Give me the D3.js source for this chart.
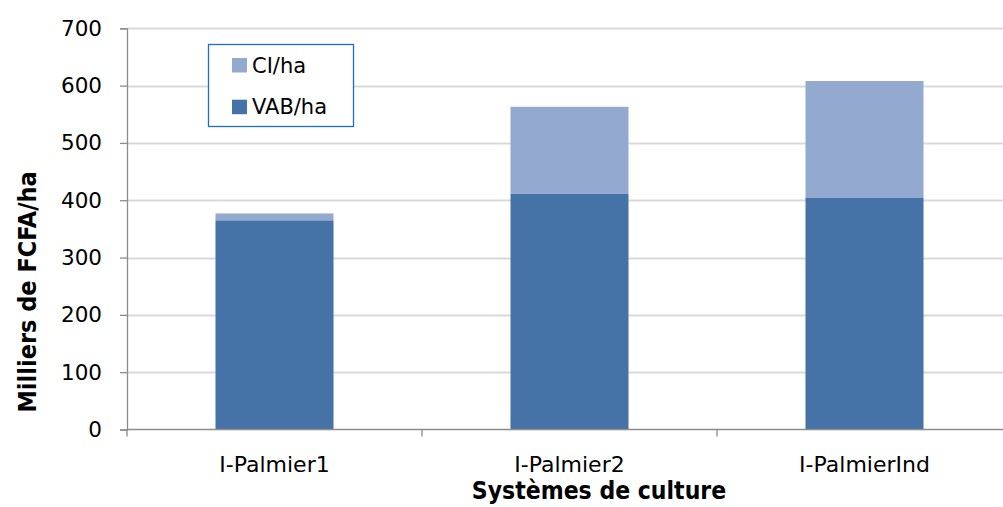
<!DOCTYPE html>
<html><head><meta charset="utf-8">
<script src="https://cdn.jsdelivr.net/npm/d3@7"></script>
<style>body{margin:0;background:#fff;}svg{display:block;}</style>
</head><body>
<svg id="c" width="1003" height="507"></svg>
<script>
const categories = ["I-Palmier1", "I-Palmier2", "I-PalmierInd"];
const vabValues = [365, 411, 405];
const ciValues = [12, 152, 203];
const seriesNames = ["VAB/ha", "CI/ha"];
const yTicks = [0, 100, 200, 300, 400, 500, 600, 700];

(function(){
const svg = d3.select("#c");
const font = "'DejaVu Sans Condensed', 'DejaVu Sans', sans-serif";
const fontN = "'DejaVu Sans', sans-serif";
const pLeft = 127, pRight = 1012, pTop = 28.3, pBottom = 429.5;
const colors = {"VAB/ha": "#4572A7", "CI/ha": "#94A9D0"};

const x = d3.scaleBand().domain(categories).range([pLeft, pRight]).paddingInner(0.6).paddingOuter(0.3);
const xb = d3.scaleBand().domain(categories).range([pLeft, pRight]);
const y = d3.scaleLinear().domain([0, 700]).range([pBottom, pTop]);

// gridlines
svg.append("g").selectAll("line").data(yTicks.filter(d => d > 0)).join("line")
  .attr("x1", pLeft).attr("x2", 1003)
  .attr("y1", d => Math.round(y(d)) + 0.5).attr("y2", d => Math.round(y(d)) + 0.5)
  .attr("stroke", "#D9D9D9").attr("stroke-width", 2);

const data = categories.map((c, i) => ({cat: c, "VAB/ha": vabValues[i], "CI/ha": ciValues[i]}));
const stacked = d3.stack().keys(seriesNames)(data);

svg.append("g").selectAll("g").data(stacked).join("g")
  .attr("fill", d => colors[d.key])
  .selectAll("rect").data(d => d).join("rect")
  .attr("x", d => x(d.data.cat)).attr("width", x.bandwidth())
  .attr("y", d => y(d[1])).attr("height", d => y(d[0]) - y(d[1]));

// y axis
const yAxis = svg.append("g").attr("transform", `translate(${pLeft},0)`)
  .call(d3.axisLeft(y).tickValues(yTicks).tickSize(7).tickPadding(18));
yAxis.select(".domain").attr("stroke", "#8C8C8C").attr("stroke-width", 1.3);
yAxis.selectAll(".tick line").attr("stroke", "#8C8C8C").attr("stroke-width", 1.3);
yAxis.selectAll("text").attr("font-family", fontN).attr("font-size", 21.5).attr("fill", "#000");

// x axis
const xAxis = svg.append("g").attr("transform", `translate(0,${pBottom})`);
xAxis.append("line").attr("x1", pLeft).attr("x2", 1003).attr("y1", 0).attr("y2", 0)
  .attr("stroke", "#8C8C8C").attr("stroke-width", 1.3);
xAxis.selectAll("line.t").data(categories).join("line").attr("class", "t")
  .attr("x1", d => xb(d)).attr("x2", d => xb(d)).attr("y1", 0).attr("y2", 7)
  .attr("stroke", "#8C8C8C").attr("stroke-width", 1.3);
xAxis.selectAll("text").data(categories).join("text")
  .attr("x", d => xb(d) + xb.bandwidth() / 2).attr("y", 42)
  .attr("text-anchor", "middle").attr("font-family", fontN).attr("font-size", 22)
  .text(d => d);

// axis titles
svg.append("text").attr("x", 599).attr("y", 499).attr("text-anchor", "middle")
  .attr("font-family", font).attr("font-weight", "bold").attr("font-size", 24.5)
  .text("Systèmes de culture");
svg.append("text").attr("transform", "translate(36,292) rotate(-90)").attr("text-anchor", "middle")
  .attr("font-family", font).attr("font-weight", "bold").attr("font-size", 25)
  .text("Milliers de FCFA/ha");

// legend
const lg = svg.append("g");
lg.append("rect").attr("x", 208.5).attr("y", 44.5).attr("width", 145).attr("height", 82)
  .attr("fill", "#fff").attr("stroke", "#1E6FC3").attr("stroke-width", 1.3);
const legendItems = ["CI/ha", "VAB/ha"];
legendItems.forEach((k, i) => {
  const base = 72.5 + i * 41.7;
  lg.append("rect").attr("x", 232).attr("y", base - 14.5).attr("width", 15).attr("height", 14.5).attr("fill", colors[k]);
  lg.append("text").attr("x", 252).attr("y", base).attr("font-family", fontN).attr("font-size", 21).text(k);
});
})();
</script>
</body></html>
